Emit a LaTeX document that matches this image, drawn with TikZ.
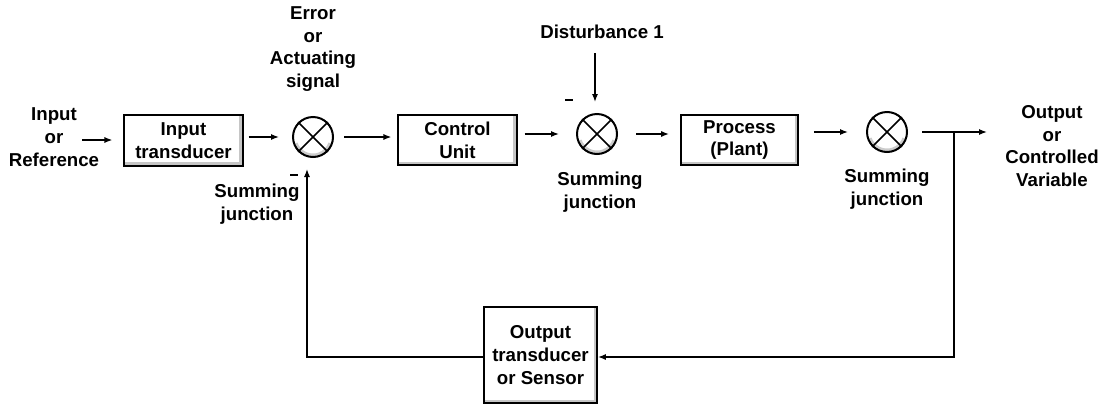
\documentclass[tikz,border=0pt]{standalone}
\usepackage{fontspec}
\setmainfont{Liberation Sans}
\usetikzlibrary{arrows.meta,calc}
\begin{document}
\begin{tikzpicture}[x=0.75pt,y=-0.75pt,
  font=\bfseries\fontsize{14}{17}\selectfont,
  lbl/.style={align=center, inner sep=0pt},
  blk/.style 2 args={draw, line width=1.1pt, fill=white, align=center,
    inner sep=0pt, minimum width=#1, minimum height=#2,
    path picture={
      \fill[gray!45] (path picture bounding box.south west)
        rectangle ([xshift=0pt,yshift=2.6pt]path picture bounding box.south east);
      \fill[gray!45] (path picture bounding box.north east)
        rectangle ([xshift=-2.6pt]path picture bounding box.south east);
    }},
  sumj/.style={circle, draw, line width=1.5pt, fill=white, minimum size=30pt,
    inner sep=0pt,
    path picture={
      \draw[gray!40, line width=2.4pt]
        ($(path picture bounding box.center)+(-160:13.6pt)$)
        arc[start angle=-160, end angle=-20, radius=13.6pt];
    }},
  cross/.style={line width=1.1pt},
  minus/.style={fill=black, inner sep=0pt, minimum width=6.5pt, minimum height=2.2pt},
  arr/.style={line width=1.1pt, -{Latex[length=6pt,width=4.6pt]}},
  wire/.style={line width=1.1pt}]

\useasboundingbox (0,0) rectangle (1103,404);

% blocks
\node[blk={89pt}{38pt}] (inbox) at (183.5,140.5) {Input\\transducer};
\node[blk={89pt}{37.5pt}] (ctrl) at (457.5,140) {Control\\Unit};
\node[blk={88pt}{37.5pt}] (proc) at (739.5,140) {Process\\(Plant)};
\node[blk={85pt}{72pt}] (sensor) at (540.5,355) {Output\\transducer\\or Sensor};

% summing junctions
\node[sumj] (s1) at (313,137) {};
\node[sumj] (s2) at (597,134) {};
\node[sumj] (s3) at (887,132) {};
\foreach \s in {s1,s2,s3}{
  \draw[cross] (\s.north east) -- (\s.south west);
  \draw[cross] (\s.north west) -- (\s.south east);
}

% labels
\node[lbl] (inlbl) at (54,137) {Input\\or\\Reference};
\node[lbl] (errlbl) at (313,49) {Error\\or\\Actuating\\signal};
\node[lbl] (distlbl) at (602,32) {Disturbance 1};
\node[lbl] (outlbl) at (1052,146) {Output\\or\\Controlled\\Variable};
\node[lbl] (sj1) at (257,204) {Summing\\junction};
\node[lbl] (sj2) at (600,192) {Summing\\junction};
\node[lbl] (sj3) at (887,189) {Summing\\junction};

% negative signs at the summing inputs
\node[minus] (m1) at (294,175) {};
\node[minus] (m2) at (569,100) {};

% free ends and corners of the connectors
\coordinate (inA) at (82,140);
\coordinate (dA) at (595,53);
\coordinate (outA) at (987,132);
\coordinate (fork) at (954,132);
\coordinate (fbR) at (954,357);
\coordinate (fbL) at (307,357);

% forward path
\draw[arr, shorten >=8.25pt] (inA) -- (inbox.west |- inA);
\draw[arr, shorten <=3.75pt, shorten >=9.75pt] (inbox.east |- s1) -- (s1.west);
\draw[arr, shorten <=7.5pt, shorten >=4.5pt] (s1.east) -- (ctrl.west |- s1);
\draw[arr, shorten <=5.25pt, shorten >=12.75pt] (ctrl.east |- s2) -- (s2.west);
\draw[arr, shorten <=13.5pt, shorten >=8.25pt] (s2.east) -- (proc.west |- s2);
\draw[arr, shorten <=11.25pt, shorten >=13.5pt] (proc.east |- s3) -- (s3.west);
\draw[arr, shorten <=10.5pt] (s3.east) -- (outA);

% disturbance
\draw[arr, shorten >=8.25pt] (dA) -- (dA |- s2.north);

% feedback path
\draw[arr] (fork) -- (fbR) -- (sensor.east |- fbR);
\draw[arr, shorten >=8.25pt] (sensor.west |- fbL) -- (fbL) -- (fbL |- s1.south);
\end{tikzpicture}
\end{document}
